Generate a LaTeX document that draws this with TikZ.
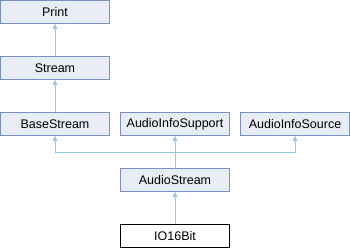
\documentclass[tikz,border=0pt]{standalone}
\usepackage{fontspec}
\setmainfont{Liberation Sans}
\usetikzlibrary{arrows.meta}
\definecolor{boxfill}{HTML}{E8ECF5}
\definecolor{boxline}{HTML}{7B8FC5}
\definecolor{edgecol}{HTML}{94C8E6}
\tikzset{
  cls/.style={draw=boxline, fill=boxfill, line width=1pt, minimum width=109pt,
              minimum height=23pt, inner sep=0pt, font=\fontsize{12.5}{14}\selectfont},
  cur/.style={cls, draw=black, fill=white},
  inherit/.style={draw=edgecol, line width=1pt, -{Triangle[width=5pt,length=5pt]}}
}
\begin{document}
\begin{tikzpicture}[x=1pt, y=-1pt]
  \useasboundingbox (0,0) rectangle (350,248);
  \node[cls] (print) at (55,12) {Print};
  \node[cls] (stream) at (55,68) {Stream};
  \node[cls] (base) at (55,124) {BaseStream};
  \node[cls] (support) at (175,124) {AudioInfoSupport};
  \node[cls] (source) at (295,124) {AudioInfoSource};
  \node[cls] (audio) at (175,180) {AudioStream};
  \node[cur] (io) at (175,236) {IO16Bit};
  \coordinate (rail) at (0,152.5);
  \draw[inherit] (stream.north) -- (print.south);
  \draw[inherit] (base.north) -- (stream.south);
  \draw[inherit] (io.north) -- (audio.south);
  \draw[inherit] (audio.north) -- (support.south);
  \draw[inherit] (audio.north |- rail) -| (base.south);
  \draw[inherit] (audio.north |- rail) -| (source.south);
\end{tikzpicture}
\end{document}
